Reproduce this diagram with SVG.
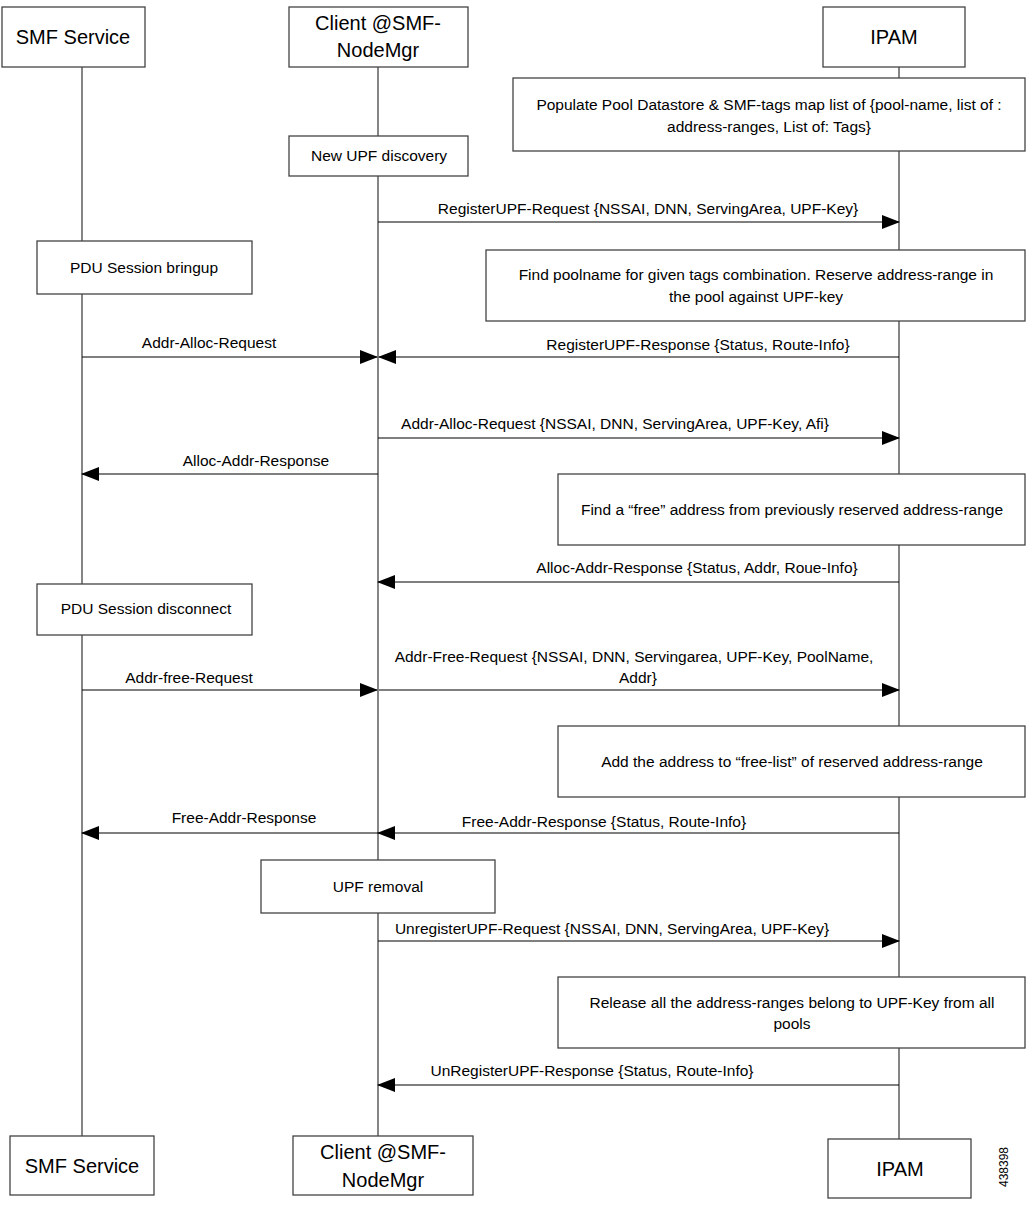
<svg xmlns="http://www.w3.org/2000/svg" width="1030" height="1207" viewBox="0 0 1030 1207">
<style>
.box{fill:#fff;stroke:#444;stroke-width:1.3}
.life{stroke:#444;stroke-width:1.3;fill:none}
.msg{stroke:#000;stroke-width:1.2;fill:none}
.h{font-family:"Liberation Sans",Arial,sans-serif;font-size:20px;fill:#000;text-anchor:middle}
.t{font-family:"Liberation Sans",Arial,sans-serif;font-size:15.5px;fill:#000;text-anchor:middle}
</style>
<defs>
<marker id="ah" markerWidth="18" markerHeight="14" refX="17" refY="7" orient="auto" markerUnits="userSpaceOnUse">
<path d="M0,0 L18,7 L0,14 Z" fill="#000"/>
</marker>
</defs>
<g id="lifelines">
<line class="life" x1="82" y1="67" x2="82" y2="1136"/>
<line class="life" x1="378" y1="67" x2="378" y2="1136"/>
<line class="life" x1="899" y1="67" x2="899" y2="1139"/>
</g>
<g id="smf-top"><rect class="box" x="2" y="7" width="143" height="60"/><text class="h" x="73" y="44">SMF Service</text></g>
<g id="client-top"><rect class="box" x="289" y="7" width="179" height="60"/><text class="h" x="378" y="30">Client @SMF-</text><text class="h" x="378" y="57">NodeMgr</text></g>
<g id="ipam-top"><rect class="box" x="823" y="7" width="142" height="60"/><text class="h" x="894" y="44">IPAM</text></g>
<g id="populate"><rect class="box" x="513" y="78" width="512" height="73"/><text class="t" x="769" y="110">Populate Pool Datastore &amp; SMF-tags map list of {pool-name, list of :</text><text class="t" x="769" y="132">address-ranges, List of: Tags}</text></g>
<g id="new-upf"><rect class="box" x="289" y="136" width="179" height="40"/><text class="t" x="379" y="161">New UPF discovery</text></g>
<g id="pdu-bringup"><rect class="box" x="37" y="241" width="215" height="53"/><text class="t" x="144" y="273">PDU Session bringup</text></g>
<g id="find-pool"><rect class="box" x="486" y="250" width="539" height="71"/><text class="t" x="756" y="280">Find poolname for given tags combination. Reserve address-range in</text><text class="t" x="756" y="302">the pool against UPF-key</text></g>
<g id="find-free"><rect class="box" x="558" y="474" width="467" height="71"/><text class="t" x="792" y="515">Find a “free” address from previously reserved address-range</text></g>
<g id="pdu-disconnect"><rect class="box" x="37" y="584" width="215" height="51"/><text class="t" x="146" y="614">PDU Session disconnect</text></g>
<g id="add-free"><rect class="box" x="558" y="726" width="467" height="71"/><text class="t" x="792" y="767">Add the address to “free-list” of reserved address-range</text></g>
<g id="upf-removal"><rect class="box" x="261" y="860" width="234" height="53"/><text class="t" x="378" y="892">UPF removal</text></g>
<g id="release"><rect class="box" x="558" y="977" width="467" height="71"/><text class="t" x="792" y="1008">Release all the address-ranges belong to UPF-Key from all</text><text class="t" x="792" y="1029">pools</text></g>
<g id="smf-bottom"><rect class="box" x="10" y="1136" width="144" height="59"/><text class="h" x="82" y="1173">SMF Service</text></g>
<g id="client-bottom"><rect class="box" x="293" y="1136" width="180" height="59"/><text class="h" x="383" y="1159">Client @SMF-</text><text class="h" x="383" y="1187">NodeMgr</text></g>
<g id="ipam-bottom"><rect class="box" x="828" y="1139" width="143" height="59"/><text class="h" x="900" y="1176">IPAM</text></g>
<g id="connectors">
<line class="msg" x1="378" y1="222" x2="899" y2="222" marker-end="url(#ah)"/>
<text class="t" x="648" y="214">RegisterUPF-Request {NSSAI, DNN, ServingArea, UPF-Key}</text>
<line class="msg" x1="82" y1="357" x2="377" y2="357" marker-end="url(#ah)"/>
<text class="t" x="209" y="348">Addr-Alloc-Request</text>
<line class="msg" x1="899" y1="357" x2="379" y2="357" marker-end="url(#ah)"/>
<text class="t" x="698" y="350">RegisterUPF-Response {Status, Route-Info}</text>
<line class="msg" x1="378" y1="438" x2="899" y2="438" marker-end="url(#ah)"/>
<text class="t" x="615" y="429">Addr-Alloc-Request {NSSAI, DNN, ServingArea, UPF-Key, Afi}</text>
<line class="msg" x1="378" y1="474" x2="82" y2="474" marker-end="url(#ah)"/>
<text class="t" x="256" y="466">Alloc-Addr-Response</text>
<line class="msg" x1="899" y1="582" x2="378" y2="582" marker-end="url(#ah)"/>
<text class="t" x="697" y="573">Alloc-Addr-Response {Status, Addr, Roue-Info}</text>
<line class="msg" x1="82" y1="690" x2="377" y2="690" marker-end="url(#ah)"/>
<text class="t" x="189" y="683">Addr-free-Request</text>
<line class="msg" x1="379" y1="690" x2="899" y2="690" marker-end="url(#ah)"/>
<text class="t" x="634" y="662">Addr-Free-Request {NSSAI, DNN, Servingarea, UPF-Key, PoolName,</text>
<text class="t" x="638" y="683">Addr}</text>
<line class="msg" x1="378" y1="833" x2="82" y2="833" marker-end="url(#ah)"/>
<text class="t" x="244" y="823">Free-Addr-Response</text>
<line class="msg" x1="899" y1="833" x2="378" y2="833" marker-end="url(#ah)"/>
<text class="t" x="604" y="827">Free-Addr-Response {Status, Route-Info}</text>
<line class="msg" x1="378" y1="941" x2="899" y2="941" marker-end="url(#ah)"/>
<text class="t" x="612" y="934">UnregisterUPF-Request {NSSAI, DNN, ServingArea, UPF-Key}</text>
<line class="msg" x1="899" y1="1085" x2="378" y2="1085" marker-end="url(#ah)"/>
<text class="t" x="592" y="1076">UnRegisterUPF-Response {Status, Route-Info}</text>
</g>
<text x="1008" y="1167" transform="rotate(-90 1008 1167)" font-family="'Liberation Sans',Arial,sans-serif" font-size="12" text-anchor="middle">438398</text>
</svg>
